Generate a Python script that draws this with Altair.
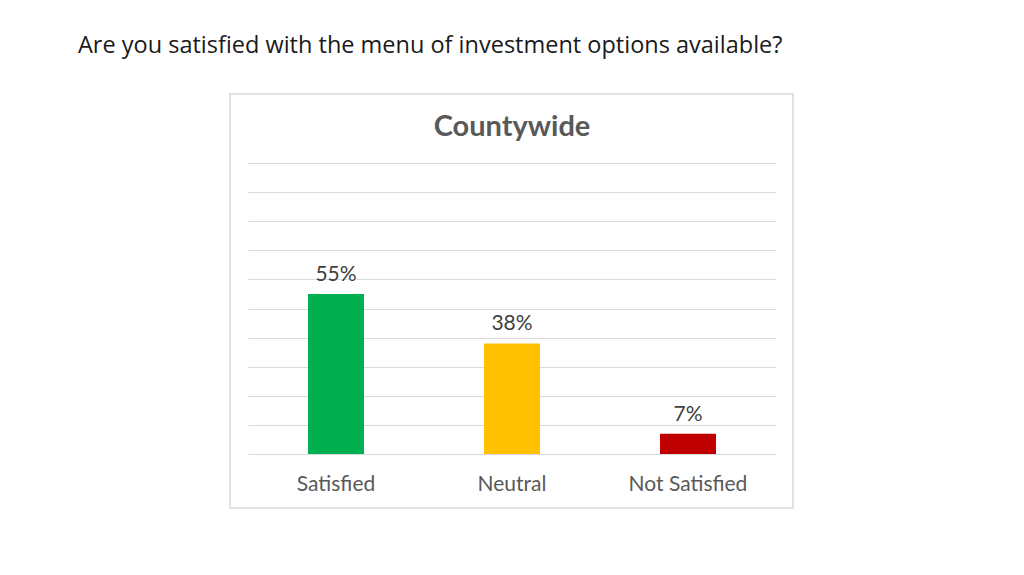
import altair as alt
import pandas as pd

page_title = "Are you satisfied with the menu of investment options available?"
chart_title = "Countywide"
categories = ["Satisfied", "Neutral", "Not Satisfied"]
values = [55, 38, 7]
labels = ["55%", "38%", "7%"]
colors = ["#00B050", "#FFC000", "#C00000"]
grid_values = [0, 10, 20, 30, 40, 50, 60, 70, 80, 90, 100]

df = pd.DataFrame({"cat": categories, "val": values, "lab": labels})

W, H = 528, 291

x = alt.X("cat:N", sort=categories, title=None,
          scale=alt.Scale(paddingInner=0.68, paddingOuter=0.34),
          axis=alt.Axis(labelAngle=0, labelFontSize=21, labelColor="#595959",
                        labelFont="Lato", labelPadding=19, ticks=False, domain=False))
y = alt.Y("val:Q", title=None,
          scale=alt.Scale(domain=[0, 100], nice=False),
          axis=alt.Axis(values=grid_values, labels=False, ticks=False, domain=False,
                        grid=True, gridColor="#d9d9d9", gridWidth=1))

box = alt.Chart(pd.DataFrame({"k": [0]})).mark_rect(
    fill="transparent", stroke="#d9d9d9", strokeWidth=1.5
).encode(x=alt.value(-18), x2=alt.value(545), y=alt.value(-69), y2=alt.value(345))

bars = alt.Chart(df).mark_bar(size=56).encode(
    x=x, y=y,
    color=alt.Color("cat:N", sort=categories,
                    scale=alt.Scale(domain=categories, range=colors), legend=None)
)

text = alt.Chart(df).mark_text(
    dy=-13, baseline="alphabetic", fontSize=21, font="Lato", color="#404040"
).encode(x=x, y=y, text="lab:N")

ctitle = alt.Chart(pd.DataFrame({"t": [chart_title]})).mark_text(
    fontSize=29, fontWeight="bold", font="Lato", color="#595959", baseline="alphabetic"
).encode(text="t:N", x=alt.value(264), y=alt.value(-27))

ptitle = alt.Chart(pd.DataFrame({"t": [page_title]})).mark_text(
    fontSize=23.5, font="Open Sans", color="#1a1a1a", baseline="alphabetic", align="left"
).encode(text="t:N", x=alt.value(-170), y=alt.value(-110))

chart = alt.layer(box, bars, text, ctitle, ptitle).properties(
    width=W, height=H,
    background="white",
    autosize=alt.AutoSizeParams(type="none"),
    padding={"left": 240, "top": 155, "right": 232, "bottom": 113},
).configure_view(strokeWidth=0)

chart.save("out.html", embed_options={"renderer": "svg", "actions": False})
